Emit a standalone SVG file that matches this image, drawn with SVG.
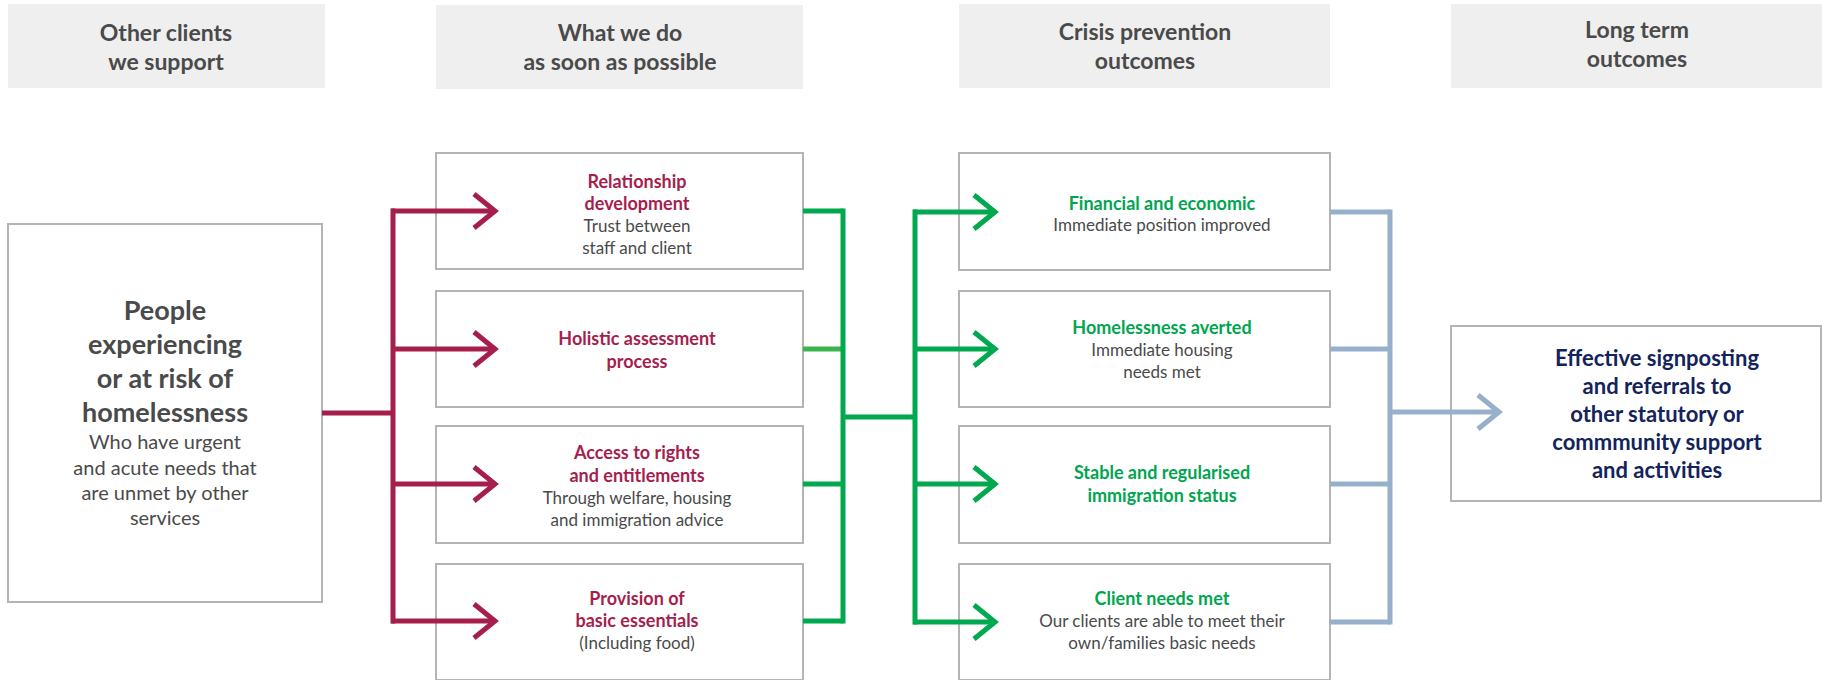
<svg xmlns="http://www.w3.org/2000/svg" width="1822" height="680" viewBox="0 0 1822 680">
  <style>
    .hdr { fill: #efefef; }
    .hdr-t { font-family: Lato, "Open Sans", sans-serif; font-weight: 700; font-size: 23px; fill: #4a4a4a; text-anchor: middle; }
    .box { fill: #ffffff; stroke: #b4b4b6; stroke-width: 2; }
    .t { font-family: Lato, "Open Sans", sans-serif; text-anchor: middle; }
    .body { font-size: 17px; fill: #4a4a4a; }
    .red { font-size: 18px; font-weight: 700; fill: #a61e4d; }
    .grn { font-size: 18px; font-weight: 700; fill: #00a54f; }
    .big { font-size: 27px; font-weight: 700; fill: #4a4a4a; }
    .sub { font-size: 20px; fill: #4a4a4a; }
    .navy { font-size: 22px; font-weight: 700; fill: #13235b; }
    .ln { fill: none; stroke-width: 5; }
    .lr { stroke: #a61e4d; }
    .lg { stroke: #00a94f; }
    .lb { stroke: #96afca; }
  </style>
  <defs>
    <marker id="chevRed" markerUnits="userSpaceOnUse" markerWidth="34" markerHeight="48" viewBox="-28 -24 34 48" refX="0" refY="0" orient="auto">
      <path d="M-21,-17 L0,0 L-21,17" fill="none" stroke="#a61e4d" stroke-width="5"/>
    </marker>
    <marker id="chevGrn" markerUnits="userSpaceOnUse" markerWidth="34" markerHeight="48" viewBox="-28 -24 34 48" refX="0" refY="0" orient="auto">
      <path d="M-21,-17 L0,0 L-21,17" fill="none" stroke="#00a94f" stroke-width="5"/>
    </marker>
    <marker id="chevBlue" markerUnits="userSpaceOnUse" markerWidth="34" markerHeight="48" viewBox="-28 -24 34 48" refX="0" refY="0" orient="auto">
      <path d="M-21,-17 L0,0 L-21,17" fill="none" stroke="#96afca" stroke-width="5"/>
    </marker>
  </defs>

  <rect width="1822" height="680" fill="#ffffff"/>

  <!-- column headers -->
  <g id="header-clients">
    <rect class="hdr" x="8" y="4" width="317" height="84"/>
    <text class="hdr-t" x="166" y="41">Other clients</text>
    <text class="hdr-t" x="166" y="70">we support</text>
  </g>
  <g id="header-actions">
    <rect class="hdr" x="436" y="5" width="367" height="84"/>
    <text class="hdr-t" x="620" y="41">What we do</text>
    <text class="hdr-t" x="620" y="70">as soon as possible</text>
  </g>
  <g id="header-crisis">
    <rect class="hdr" x="959" y="4" width="371" height="84"/>
    <text class="hdr-t" x="1145" y="40">Crisis prevention</text>
    <text class="hdr-t" x="1145" y="69">outcomes</text>
  </g>
  <g id="header-longterm">
    <rect class="hdr" x="1451" y="4" width="371" height="84"/>
    <text class="hdr-t" x="1637" y="38">Long term</text>
    <text class="hdr-t" x="1637" y="67">outcomes</text>
  </g>

  <!-- client group -->
  <g id="node-people">
    <rect class="box" x="8" y="224" width="314" height="378"/>
    <text class="t big" x="165" y="320">People</text>
    <text class="t big" x="165" y="354">experiencing</text>
    <text class="t big" x="165" y="388">or at risk of</text>
    <text class="t big" x="165" y="422">homelessness</text>
    <text class="t sub" x="165" y="449">Who have urgent</text>
    <text class="t sub" x="165" y="475">and acute needs that</text>
    <text class="t sub" x="165" y="500">are unmet by other</text>
    <text class="t sub" x="165" y="525">services</text>
  </g>

  <!-- actions -->
  <g id="node-relationship">
    <rect class="box" x="436" y="153" width="367" height="116"/>
    <text class="t red" x="637" y="188">Relationship</text>
    <text class="t red" x="637" y="210">development</text>
    <text class="t body" x="637" y="232">Trust between</text>
    <text class="t body" x="637" y="254">staff and client</text>
  </g>
  <g id="node-assessment">
    <rect class="box" x="436" y="291" width="367" height="116"/>
    <text class="t red" x="637" y="345">Holistic assessment</text>
    <text class="t red" x="637" y="368">process</text>
  </g>
  <g id="node-rights">
    <rect class="box" x="436" y="426" width="367" height="117"/>
    <text class="t red" x="637" y="459">Access to rights</text>
    <text class="t red" x="637" y="482">and entitlements</text>
    <text class="t body" x="637" y="504">Through welfare, housing</text>
    <text class="t body" x="637" y="526">and immigration advice</text>
  </g>
  <g id="node-essentials">
    <rect class="box" x="436" y="564" width="367" height="116"/>
    <text class="t red" x="637" y="605">Provision of</text>
    <text class="t red" x="637" y="627">basic essentials</text>
    <text class="t body" x="637" y="649">(Including food)</text>
  </g>

  <!-- crisis prevention outcomes -->
  <g id="node-financial">
    <rect class="box" x="959" y="153" width="371" height="117"/>
    <text class="t grn" x="1162" y="210">Financial and economic</text>
    <text class="t body" x="1162" y="231">Immediate position improved</text>
  </g>
  <g id="node-averted">
    <rect class="box" x="959" y="291" width="371" height="116"/>
    <text class="t grn" x="1162" y="334">Homelessness averted</text>
    <text class="t body" x="1162" y="356">Immediate housing</text>
    <text class="t body" x="1162" y="378">needs met</text>
  </g>
  <g id="node-immigration">
    <rect class="box" x="959" y="426" width="371" height="117"/>
    <text class="t grn" x="1162" y="479">Stable and regularised</text>
    <text class="t grn" x="1162" y="502">immigration status</text>
  </g>
  <g id="node-needs">
    <rect class="box" x="959" y="564" width="371" height="116"/>
    <text class="t grn" x="1162" y="605">Client needs met</text>
    <text class="t body" x="1162" y="627">Our clients are able to meet their</text>
    <text class="t body" x="1162" y="649">own/families basic needs</text>
  </g>

  <!-- long term outcome -->
  <g id="node-signposting">
    <rect class="box" x="1451" y="326" width="370" height="175"/>
    <text class="t navy" x="1657" y="366">Effective signposting</text>
    <text class="t navy" x="1657" y="394">and referrals to</text>
    <text class="t navy" x="1657" y="422">other statutory or</text>
    <text class="t navy" x="1657" y="450">commmunity support</text>
    <text class="t navy" x="1657" y="478">and activities</text>
  </g>

  <!-- connectors -->
  <g id="connectors">
    <!-- people to actions -->
    <path class="ln lr" d="M322,413 H393"/>
    <path class="ln lr" stroke-linecap="square" d="M393,211 V621"/>
    <path class="ln lr" d="M391,211 H495" marker-end="url(#chevRed)"/>
    <path class="ln lr" d="M393,349 H495" marker-end="url(#chevRed)"/>
    <path class="ln lr" d="M393,484 H495" marker-end="url(#chevRed)"/>
    <path class="ln lr" d="M391,621 H495" marker-end="url(#chevRed)"/>

    <!-- actions to crisis outcomes -->
    <path class="ln lg" d="M803,211 H843"/>
    <path class="ln" stroke="#3cb44b" d="M803,349 H843"/>
    <path class="ln lg" d="M803,484 H843"/>
    <path class="ln lg" d="M803,621 H843"/>
    <path class="ln lg" stroke-linecap="square" d="M843,211 V621"/>
    <path class="ln lg" d="M843,417 H915"/>
    <path class="ln lg" stroke-linecap="square" d="M915,212 V622"/>
    <path class="ln lg" d="M913,212 H995" marker-end="url(#chevGrn)"/>
    <path class="ln lg" d="M915,349 H995" marker-end="url(#chevGrn)"/>
    <path class="ln lg" d="M915,484 H995" marker-end="url(#chevGrn)"/>
    <path class="ln lg" d="M913,622 H995" marker-end="url(#chevGrn)"/>

    <!-- crisis outcomes to long term -->
    <path class="ln lb" d="M1330,212 H1390"/>
    <path class="ln lb" d="M1330,349 H1390"/>
    <path class="ln lb" d="M1330,484 H1390"/>
    <path class="ln lb" d="M1330,622 H1390"/>
    <path class="ln lb" stroke-linecap="square" d="M1390,212 V622"/>
    <path class="ln lb" d="M1390,412 H1499" marker-end="url(#chevBlue)"/>
  </g>
</svg>
